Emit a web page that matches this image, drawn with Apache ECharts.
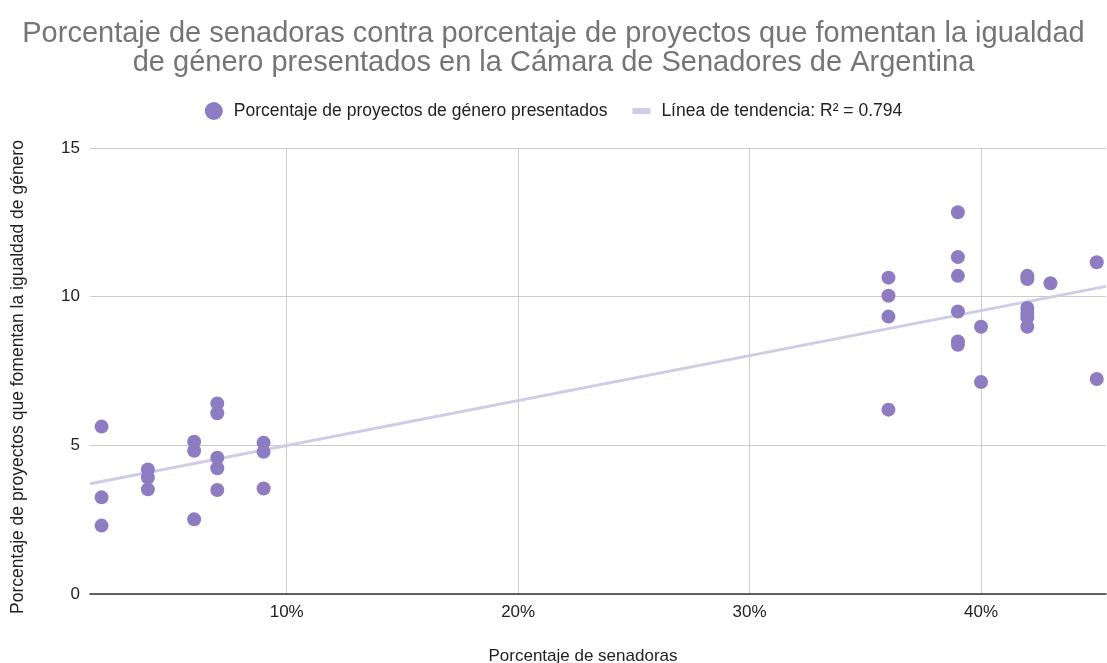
<!DOCTYPE html>
<html>
<head>
<meta charset="utf-8">
<script src="https://cdn.jsdelivr.net/npm/echarts@6/dist/echarts.min.js"></script>
<style>
html,body{margin:0;padding:0;background:#fff;}
#chart{width:1107px;height:663px;}
</style>
</head>
<body>
<div id="chart"></div>
<script>
const titleText = "Porcentaje de senadoras contra porcentaje de proyectos que fomentan la igualdad\nde género presentados en la Cámara de Senadores de Argentina";
const seriesPointsName = "Porcentaje de proyectos de género presentados";
const seriesTrendName = "Línea de tendencia: R² = 0.794";
const xAxisName = "Porcentaje de senadoras";
const yAxisName = "Porcentaje de proyectos que fomentan la igualdad de género";

const senadoras = [2,2,2, 4,4,4, 6,6,6, 7,7,7,7,7, 9,9,9,
  36,36,36,36, 39,39,39,39,39,39, 40,40, 42,42,42,42,42,42, 43, 45,45];
const proyectos = [5.63,3.25,2.30, 4.19,3.92,3.52, 5.12,4.82,2.51, 6.41,6.08,4.58,4.23,3.50, 5.09,4.78,3.55,
  10.64,10.03,9.33,6.20, 12.84,11.33,10.70,9.50,8.49,8.38, 8.99,7.13, 10.70,10.59,9.62,9.45,9.30,8.99, 10.45, 11.16,7.23];
const xTicks = [10,20,30,40];
const yTicks = [0,5,10,15];

const X_MIN = 1.5, X_MAX = 45.4;

// least squares trend line
const n = senadoras.length;
let sx=0, sy=0, sxx=0, sxy=0;
for (let i=0;i<n;i++){ sx+=senadoras[i]; sy+=proyectos[i]; sxx+=senadoras[i]*senadoras[i]; sxy+=senadoras[i]*proyectos[i]; }
const slope = (n*sxy - sx*sy)/(n*sxx - sx*sx);
const intercept = (sy - slope*sx)/n;
const trend = [[X_MIN, intercept+slope*X_MIN],[X_MAX, intercept+slope*X_MAX]];

const points = senadoras.map((x,i)=>[x, proyectos[i]]);
const font = "'Liberation Sans', Arial, sans-serif";

const chart = echarts.init(document.getElementById('chart'));
chart.setOption({
  animation:false,
  textStyle:{fontFamily:font},
  title:{
    text:titleText, left:'center', top:14,
    textStyle:{fontFamily:font, fontSize:29, fontWeight:'normal', color:'#757575', lineHeight:29}
  },
  legend:{
    top:97, left:'center', itemGap:25, itemWidth:18, itemHeight:18,
    textStyle:{fontFamily:font, fontSize:17.5, color:'#222', padding:[0,0,0,6]},
    data:[
      {name:seriesPointsName, icon:'circle'},
      {name:seriesTrendName, icon:'path://M0,0h18v6h-18z', itemStyle:{color:'#d1cbe7'}}
    ]
  },
  grid:{left:90, right:1, top:148, bottom:69, containLabel:false, outerBoundsMode:'none'},
  xAxis:{
    type:'value', min:X_MIN, max:X_MAX,
    name:xAxisName, nameLocation:'middle', nameGap:54,
    nameTextStyle:{fontFamily:font, fontSize:17, color:'#222', padding:[0,30,0,0]},
    axisLine:{show:true, onZero:false, lineStyle:{color:'#333', width:1.5}},
    axisTick:{show:false, customValues:xTicks},
    axisLabel:{fontFamily:font, fontSize:17, color:'#222', margin:10,
      customValues:xTicks, formatter:(v)=>v+'%'},
    splitLine:{show:true, lineStyle:{color:'#cccccc'}}
  },
  yAxis:{
    type:'value', min:0, max:15, interval:5,
    name:yAxisName, nameLocation:'middle', nameGap:63, nameRotate:90,
    nameTextStyle:{fontFamily:font, fontSize:17.5, color:'#222', padding:[0,12,0,0]},
    axisLine:{show:false}, axisTick:{show:false},
    axisLabel:{fontFamily:font, fontSize:17, color:'#222', margin:10},
    splitLine:{show:true, lineStyle:{color:'#cccccc'}}
  },
  series:[
    {
      name:seriesTrendName, type:'line', data:trend, symbol:'none', silent:true,
      lineStyle:{color:'#d1cbe7', width:3}, itemStyle:{color:'#d1cbe7'}, z:1
    },
    {
      name:seriesPointsName, type:'scatter', data:points, symbolSize:14,
      itemStyle:{color:'#8e7cc3', opacity:1}, z:3
    }
  ]
});
</script>
</body>
</html>
